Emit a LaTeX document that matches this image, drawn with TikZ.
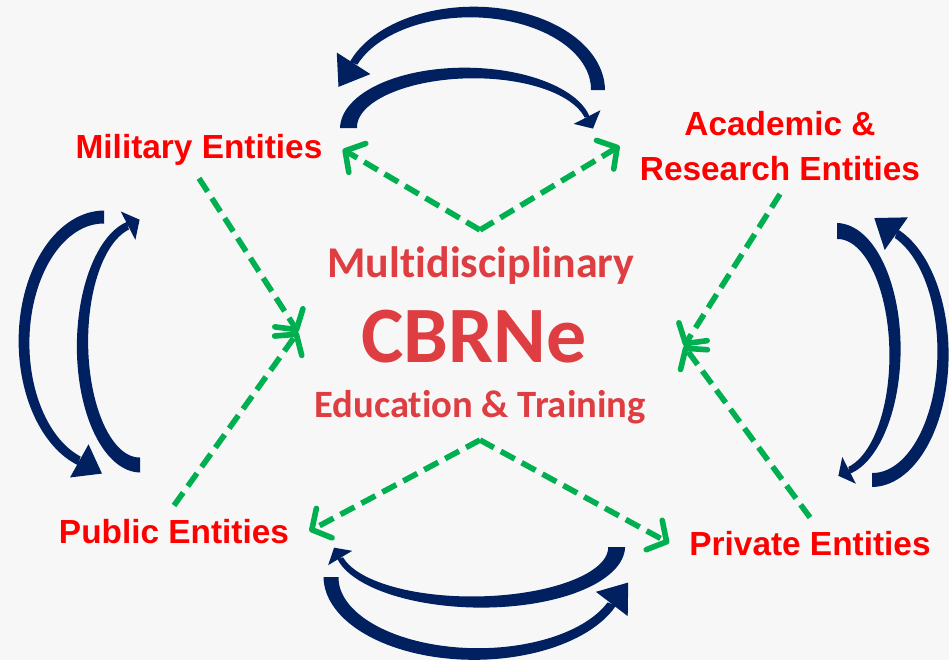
\documentclass[tikz,border=0pt]{standalone}
\usepackage{fontspec}
\setmainfont{Liberation Sans}
\newfontfamily\corefont[Ligatures=NoCommon]{Carlito}
\usetikzlibrary{arrows.meta,calc}

\definecolor{swirlblue}{RGB}{0,32,96}
\definecolor{flowgreen}{RGB}{0,176,80}
\definecolor{entityred}{RGB}{255,0,0}
\definecolor{corered}{RGB}{222,62,66}
\definecolor{paper}{RGB}{247,247,247}

\tikzset{
  entity/.style={text=entityred, font=\fontsize{19}{25.6}\selectfont\bfseries,
    inner xsep=0.4cm, inner ysep=0.26cm},
  core/.style={text=corered, font=\corefont\bfseries, inner sep=0pt, anchor=base},
  flow/.style={draw=flowgreen, line width=3.2pt, dash pattern=on 9pt off 4.5pt,
    -{Straight Barb[length=8pt,width=19pt,round]}},
  swirl/.style={fill=swirlblue},
}

% #1 centre, #2 #3 radii, #4 #5 start/end angle, #6 #7 tail/end width,
% #8 head half width, #9 head length (all in pixels)
\newcommand\bentarrow[9]{%
  \begin{scope}[shift={(#1)}]
    \fill[swirl] plot[domain=#4:#5,samples=60]
      ({(#2+(#6+(#7-#6)*(\x-(#4))/((#5)-(#4)))/2)*cos(\x)},{(#3+(#6+(#7-#6)*(\x-(#4))/((#5)-(#4)))/2)*sin(\x)})
      -- plot[domain=#5:#4,samples=60]
      ({(#2-(#6+(#7-#6)*(\x-(#4))/((#5)-(#4)))/2)*cos(\x)},{(#3-(#6+(#7-#6)*(\x-(#4))/((#5)-(#4)))/2)*sin(\x)})
      -- cycle;
    \coordinate (hp) at ({#2*cos(#5)},{#3*sin(#5)});
    \coordinate (hb) at ({#2*cos((#5)-0.02*((#5)-(#4)))},{#3*sin((#5)-0.02*((#5)-(#4)))});
  \end{scope}
  \fill[swirl] ($(hp)!#8*0.02cm!90:(hb)$) -- ($(hp)!-#9*0.02cm!(hb)$)
    -- ($(hp)!#8*0.02cm!-90:(hb)$) -- cycle;%
}

\begin{document}
\begin{tikzpicture}[x=0.02cm,y=-0.02cm]
  \fill[paper] (0,0) rectangle (949,660);
  \useasboundingbox (0,0) rectangle (949,660);

  % Marking the four entities
  \node[entity, anchor=base] (mil) at (199,158) {Military Entities};
  \node[entity, align=center] (acad) at (780,146) {Academic \&\\Research Entities};
  \node[entity, anchor=base] (pub) at (174,543) {Public Entities};
  \node[entity, anchor=base] (priv) at (810,555) {Private Entities};

  % Marking the core title
  \node[core, font=\corefont\bfseries\fontsize{25}{28}\selectfont] (multi) at (481,277) {Multidisciplinary};
  \node[core, font=\corefont\bfseries\fontsize{45.5}{50}\selectfont] (cbrne) at (474,362) {CBRNe};
  \node[core, font=\corefont\bfseries\fontsize{22}{26}\selectfont] (edu) at (480,417) {Education \& Training};

  % Free ends round the core
  \coordinate (topv) at (480,230);
  \coordinate (botv) at (480,440);
  \coordinate (coreW) at (298,332);
  \coordinate (coreE) at (684,346);

  % Drawing green flows
  \draw[flow] (topv) -- (mil.east);
  \draw[flow] (topv) -- (acad.west);
  \draw[flow] (mil.south) -- (coreW);
  \draw[flow] (pub.north) -- (coreW);
  \draw[flow] (acad.south) -- (coreE);
  \draw[flow] (priv.north) -- (coreE);
  \draw[flow] (botv) -- (pub.east);
  \draw[flow] (botv) -- (priv.west);

  % Drawing blue swirls, top pair
  \bentarrow{472,90}{126}{78}{0}{-160}{14}{8}{20}{28}
  \bentarrow{469,128}{120.5}{55}{-180}{-11.5}{17}{5}{15}{13}

  % Drawing blue swirls, left pair
  \bentarrow{104,342}{80}{125}{-90}{-252}{13}{9}{19}{26}
  \bentarrow{140,344}{57.5}{121}{90}{258}{15}{8}{16}{13}

  % Drawing blue swirls, right pair
  \bentarrow{837,352}{58}{121}{-90}{78}{16}{7}{15}{12}
  \bentarrow{872,353}{71}{127}{90}{-70}{14}{9}{20}{27}

  % Drawing blue swirls, bottom pair
  \bentarrow{477,547}{139.6}{55}{0}{168.5}{17}{6}{14}{12}
  \bentarrow{476,577}{145}{77}{180}{20.5}{15}{9}{20}{27}
\end{tikzpicture}
\end{document}
